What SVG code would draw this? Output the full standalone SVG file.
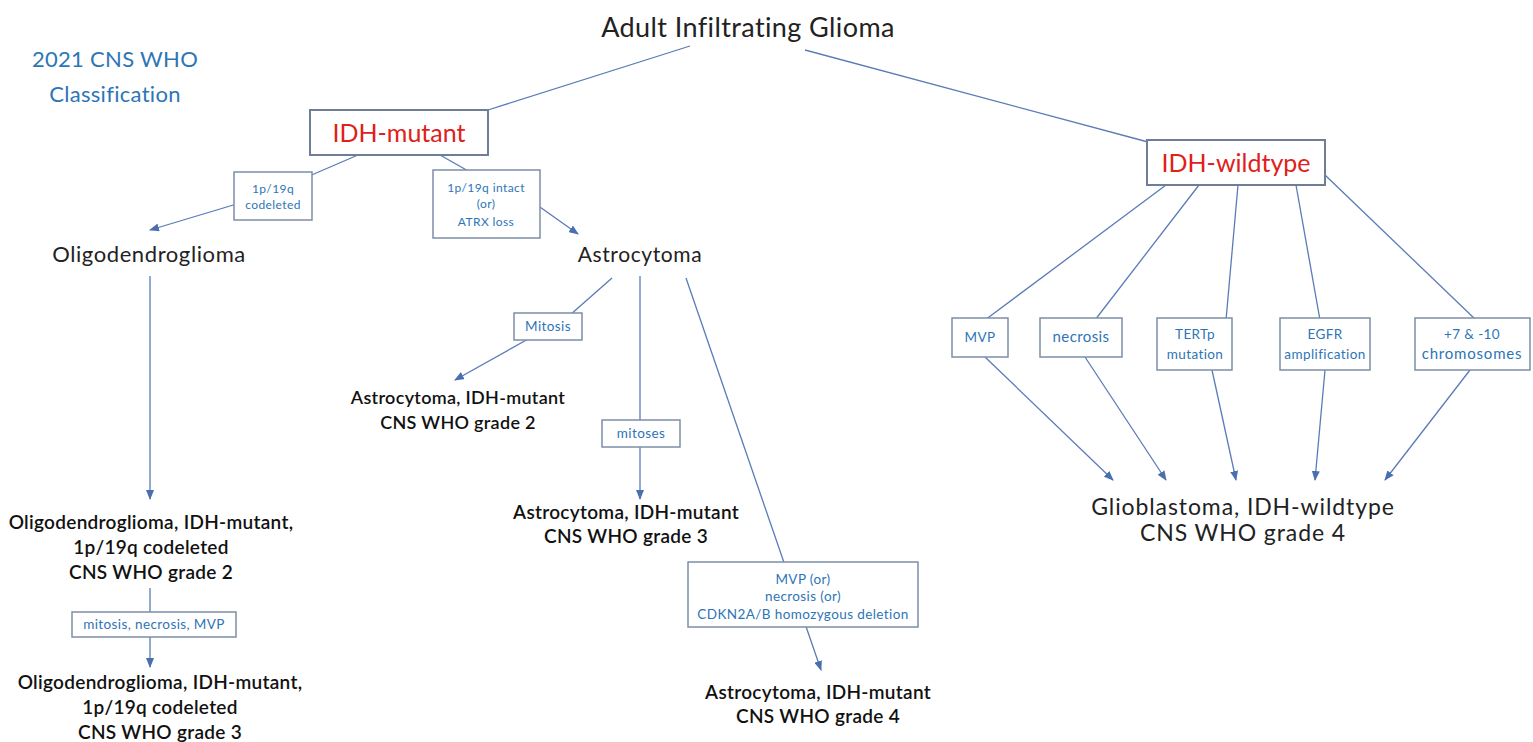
<svg xmlns="http://www.w3.org/2000/svg" width="1533" height="742" viewBox="0 0 1533 742">
<defs>
<marker id="ah" markerWidth="10" markerHeight="8" refX="9" refY="4" orient="auto" markerUnits="userSpaceOnUse">
<path d="M0,0 L10,4 L0,8 Z" fill="#4a6fb0"/>
</marker>
<style>
text{font-family:Lato,"Open Sans","Liberation Sans",sans-serif;text-anchor:middle}
.ln{stroke:#5a7bb8;stroke-width:1.3;fill:none}
.ar{stroke:#5a7bb8;stroke-width:1.3;fill:none;marker-end:url(#ah)}
.cb{fill:#ffffff;stroke:#7d8ea8;stroke-width:1.5}
.ct{fill:#2e75b6;font-size:13.5px;letter-spacing:0.4px}
.big{fill:#222;font-size:22px;letter-spacing:0.6px}
.bold{fill:#111;font-size:19px;font-weight:600;letter-spacing:0.3px}
.red{fill:#e0201a;font-size:25px}
.rb{fill:#ffffff;stroke:#6f7e96;stroke-width:2}
</style>
</defs>
<rect width="1533" height="742" fill="#ffffff"/>
<g id="connectors">
<line class="ln" x1="690" y1="46" x2="488" y2="110"/>
<line class="ln" x1="805" y1="50" x2="1148" y2="142"/>
<line class="ln" x1="358" y1="155" x2="300" y2="180"/>
<line class="ar" x1="240" y1="203" x2="150" y2="230"/>
<line class="ln" x1="440" y1="155" x2="470" y2="172"/>
<line class="ar" x1="530" y1="200" x2="578" y2="234"/>
<line class="ar" x1="150" y1="276" x2="150" y2="499"/>
<line class="ln" x1="612" y1="278" x2="570" y2="315"/>
<line class="ar" x1="530" y1="338" x2="455" y2="380"/>
<line class="ar" x1="640" y1="276" x2="640" y2="499"/>
<line class="ar" x1="686" y1="278" x2="821" y2="670"/>
<line class="ln" x1="150" y1="588" x2="150" y2="612"/>
<line class="ar" x1="150" y1="637" x2="150" y2="667"/>
<line class="ln" x1="1166" y1="185" x2="985" y2="320"/>
<line class="ln" x1="1199" y1="185" x2="1095" y2="320"/>
<line class="ln" x1="1238" y1="185" x2="1226" y2="320"/>
<line class="ln" x1="1296" y1="185" x2="1320" y2="320"/>
<line class="ln" x1="1325" y1="175" x2="1476" y2="320"/>
<line class="ar" x1="985" y1="357" x2="1113" y2="480"/>
<line class="ar" x1="1085" y1="357" x2="1166" y2="480"/>
<line class="ar" x1="1212" y1="370" x2="1236" y2="480"/>
<line class="ar" x1="1325" y1="370" x2="1315" y2="480"/>
<line class="ar" x1="1470" y1="370" x2="1385" y2="480"/>
</g>
<g id="title"><text x="748" y="37" style="font-size:27px;fill:#222;letter-spacing:0.4px">Adult Infiltrating Glioma</text></g>
<g id="caption"><text x="115" y="67" style="font-size:22px;fill:#2e75b6;letter-spacing:0.3px">2021 CNS WHO</text><text x="115" y="102" style="font-size:22px;fill:#2e75b6;letter-spacing:0.3px">Classification</text></g>
<g id="idh-mutant"><rect class="rb" x="310" y="110" width="178" height="45"/><text class="red" x="399" y="142">IDH-mutant</text></g>
<g id="idh-wildtype"><rect class="rb" x="1147" y="140" width="178" height="45"/><text class="red" x="1236" y="172">IDH-wildtype</text></g>
<g id="c-codel"><rect class="cb" x="234" y="172" width="78" height="48"/><text class="ct" x="273" y="193" style="font-size:12px">1p/19q</text><text class="ct" x="273" y="209" style="font-size:12px">codeleted</text></g>
<g id="c-intact"><rect class="cb" x="433" y="170" width="107" height="68"/><text class="ct" x="486" y="192" style="font-size:12px">1p/19q intact</text><text class="ct" x="486" y="208" style="font-size:12px">(or)</text><text class="ct" x="486" y="226" style="font-size:12px">ATRX loss</text></g>
<g id="oligo"><text class="big" x="149" y="262">Oligodendroglioma</text></g>
<g id="astro"><text class="big" x="640" y="262" style="font-size:21px">Astrocytoma</text></g>
<g id="c-mitosis"><rect class="cb" x="514" y="313" width="68" height="27"/><text class="ct" x="548" y="331">Mitosis</text></g>
<g id="astro2"><text class="bold" x="458" y="404" style="font-size:18px">Astrocytoma, IDH-mutant</text><text class="bold" x="458" y="429" style="font-size:18px">CNS WHO grade 2</text></g>
<g id="c-mitoses"><rect class="cb" x="602" y="420" width="78" height="27"/><text class="ct" x="641" y="438">mitoses</text></g>
<g id="astro3"><text class="bold" x="626" y="519">Astrocytoma, IDH-mutant</text><text class="bold" x="626" y="543">CNS WHO grade 3</text></g>
<g id="oligo2"><text class="bold" x="151" y="529">Oligodendroglioma, IDH-mutant,</text><text class="bold" x="151" y="554">1p/19q codeleted</text><text class="bold" x="151" y="579">CNS WHO grade 2</text></g>
<g id="c-mnm"><rect class="cb" x="72" y="612" width="164" height="25"/><text class="ct" x="154" y="629">mitosis, necrosis, MVP</text></g>
<g id="oligo3"><text class="bold" x="160" y="689">Oligodendroglioma, IDH-mutant,</text><text class="bold" x="160" y="714">1p/19q codeleted</text><text class="bold" x="160" y="739">CNS WHO grade 3</text></g>
<g id="c-mvp4"><rect class="cb" x="688" y="562" width="230" height="65"/><text class="ct" x="803" y="584">MVP (or)</text><text class="ct" x="803" y="601">necrosis (or)</text><text class="ct" x="803" y="619">CDKN2A/B homozygous deletion</text></g>
<g id="astro4"><text class="bold" x="818" y="699">Astrocytoma, IDH-mutant</text><text class="bold" x="818" y="723">CNS WHO grade 4</text></g>
<g id="c-mvp"><rect class="cb" x="952" y="318" width="56" height="39"/><text class="ct" x="980" y="342">MVP</text></g>
<g id="c-necrosis"><rect class="cb" x="1040" y="318" width="82" height="39"/><text class="ct" x="1081" y="342" style="font-size:15px">necrosis</text></g>
<g id="c-tert"><rect class="cb" x="1157" y="318" width="75" height="52"/><text class="ct" x="1195" y="339">TERTp</text><text class="ct" x="1195" y="359">mutation</text></g>
<g id="c-egfr"><rect class="cb" x="1280" y="318" width="90" height="52"/><text class="ct" x="1325" y="339">EGFR</text><text class="ct" x="1325" y="359">amplification</text></g>
<g id="c-chr"><rect class="cb" x="1415" y="318" width="115" height="52"/><text class="ct" x="1472" y="339">+7 &amp; -10</text><text class="ct" x="1472" y="359" style="font-size:15px;letter-spacing:0.8px">chromosomes</text></g>
<g id="gbm"><text class="big" x="1243" y="515" style="font-size:23px;letter-spacing:0.9px">Glioblastoma, IDH-wildtype</text><text class="big" x="1243" y="541" style="font-size:23px;letter-spacing:0.9px">CNS WHO grade 4</text></g>
</svg>
